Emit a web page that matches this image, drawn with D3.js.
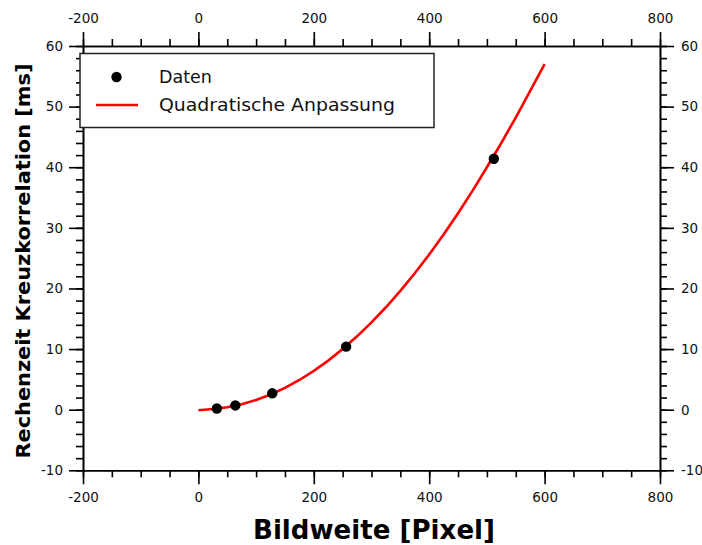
<!DOCTYPE html>
<html><head><meta charset="utf-8">
<script src="https://cdn.jsdelivr.net/npm/d3@7"></script>
<style>
html,body{margin:0;padding:0;background:#fff;}
svg{display:block;font-family:"DejaVu Sans",Verdana,sans-serif;}
</style></head>
<body>
<svg id="chart" width="702" height="545"></svg>
<script>
// Data
const dataX = [32, 64, 128, 256, 512];
const dataY = [0.2, 0.7, 2.7, 10.4, 41.4];
const fitX = [0, 25, 50, 75, 100, 125, 150, 175, 200, 225, 250, 275, 300, 325, 350, 375, 400, 425, 450, 475, 500, 525, 550, 575, 600];
const fitY = [-0.1, 0.1, 0.4, 0.9, 1.6, 2.5, 3.6, 4.9, 6.4, 8.1, 10.0, 12.1, 14.4, 16.9, 19.6, 22.5, 25.6, 28.9, 32.4, 36.1, 40.0, 44.0, 48.2, 52.6, 57.0];
const xTicks = [-200, 0, 200, 400, 600, 800];
const yTicks = [-10, 0, 10, 20, 30, 40, 50, 60];
const xMinor = d3.range(-200, 801, 50);
const yMinor = d3.range(-10, 61, 2);
const legendLabels = ["Daten", "Quadratische Anpassung"];
const xTitle = "Bildweite [Pixel]";
const yTitle = "Rechenzeit Kreuzkorrelation [ms]";

const svg = d3.select("#chart");
const L = 83, R = 660, T = 46, B = 470.3;
const x = d3.scaleLinear().domain([-200, 800]).range([L, R]);
const y = d3.scaleLinear().domain([-10, 60]).range([B, T]);

function styleAxis(g) {
  g.selectAll("path.domain").attr("stroke", "#000").attr("stroke-width", 1.6);
  g.selectAll(".tick line").attr("stroke", "#000").attr("stroke-width", 1.6);
  g.selectAll(".tick text").attr("font-size", 13.5).attr("fill", "#111")
    .attr("font-family", "'DejaVu Sans',Verdana,sans-serif");
}
const fmt = d => String(d);

// minor ticks
[["bottom", B], ["top", T]].forEach(([side, pos]) => {
  const ax = (side === "bottom" ? d3.axisBottom(x) : d3.axisTop(x))
    .tickValues(xMinor).tickSize(7).tickSizeOuter(0).tickFormat("");
  const g = svg.append("g").attr("transform", `translate(0,${pos})`).call(ax);
  styleAxis(g);
});
[["left", L], ["right", R]].forEach(([side, pos]) => {
  const ax = (side === "left" ? d3.axisLeft(y) : d3.axisRight(y))
    .tickValues(yMinor).tickSize(7).tickSizeOuter(0).tickFormat("");
  const g = svg.append("g").attr("transform", `translate(${pos},0)`).call(ax);
  styleAxis(g);
});
// major ticks
const gb = svg.append("g").attr("transform", `translate(0,${B})`)
  .call(d3.axisBottom(x).tickValues(xTicks).tickSize(14).tickSizeOuter(0).tickPadding(8).tickFormat(fmt));
styleAxis(gb);
const gt = svg.append("g").attr("transform", `translate(0,${T})`)
  .call(d3.axisTop(x).tickValues(xTicks).tickSize(14).tickSizeOuter(0).tickPadding(9).tickFormat(fmt));
styleAxis(gt);
const gl = svg.append("g").attr("transform", `translate(${L},0)`)
  .call(d3.axisLeft(y).tickValues(yTicks).tickSize(14).tickSizeOuter(0).tickPadding(6).tickFormat(fmt));
styleAxis(gl);
const gr = svg.append("g").attr("transform", `translate(${R},0)`)
  .call(d3.axisRight(y).tickValues(yTicks).tickSize(14).tickSizeOuter(0).tickPadding(7).tickFormat(fmt));
styleAxis(gr);

// fit curve
const line = d3.line().x((d, i) => x(fitX[i])).y((d, i) => y(fitY[i]));
svg.append("path").datum(fitY).attr("d", line)
  .attr("fill", "none").attr("stroke", "#ff0000").attr("stroke-width", 2.6);

// data points
svg.append("g").selectAll("circle").data(dataX).join("circle")
  .attr("cx", d => x(d)).attr("cy", (d, i) => y(dataY[i])).attr("r", 5.2).attr("fill", "#000");

// legend
const lg = svg.append("g");
lg.append("rect").attr("x", 80).attr("y", 53.5).attr("width", 354).attr("height", 74)
  .attr("fill", "#fff").attr("stroke", "#222").attr("stroke-width", 1.5);
lg.append("circle").attr("cx", 116.5).attr("cy", 77).attr("r", 5.2).attr("fill", "#000");
lg.append("line").attr("x1", 96).attr("x2", 138).attr("y1", 105).attr("y2", 105)
  .attr("stroke", "#ff0000").attr("stroke-width", 2.6);
lg.append("text").attr("x", 159).attr("y", 77).attr("dy", "0.35em").attr("font-size", 17.5)
  .attr("fill", "#111").text(legendLabels[0]);
lg.append("text").attr("x", 159).attr("y", 105).attr("dy", "0.35em").attr("font-size", 17.5)
  .attr("fill", "#111").attr("textLength", 236).attr("lengthAdjust", "spacingAndGlyphs").text(legendLabels[1]);

// axis titles
svg.append("text").attr("x", 374).attr("y", 539).attr("text-anchor", "middle")
  .attr("font-size", 26).attr("font-weight", "bold").attr("fill", "#000")
  .attr("textLength", 242).attr("lengthAdjust", "spacingAndGlyphs").text(xTitle);
svg.append("text").attr("transform", "translate(30,261) rotate(-90)").attr("text-anchor", "middle")
  .attr("font-size", 20).attr("font-weight", "bold").attr("fill", "#000")
  .attr("textLength", 395).attr("lengthAdjust", "spacingAndGlyphs").text(yTitle);
</script>
</body></html>
